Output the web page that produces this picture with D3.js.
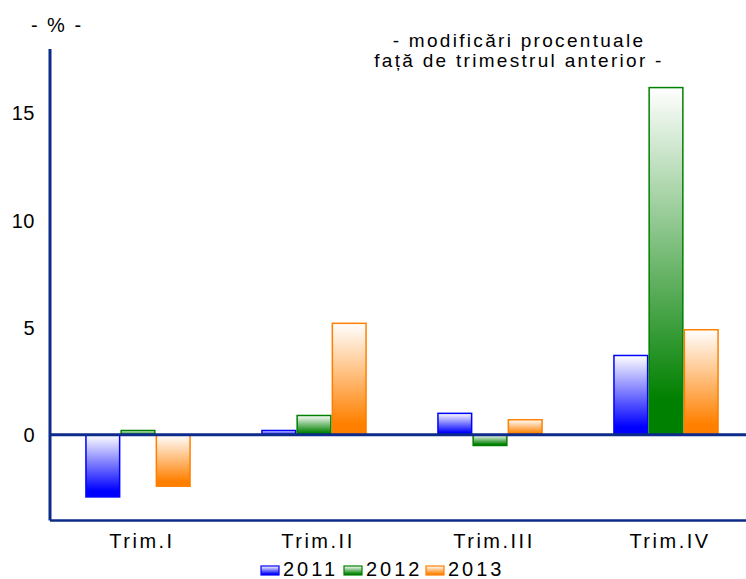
<!DOCTYPE html>
<html>
<head>
<meta charset="utf-8">
<script src="https://cdn.jsdelivr.net/npm/d3@7/dist/d3.min.js"></script>
<style>
  html, body { margin: 0; padding: 0; background: #fff; }
  svg { display: block; }
  text { font-family: "Liberation Sans", Arial, sans-serif; fill: #000; }
</style>
</head>
<body>
<svg id="chart" width="746" height="579"></svg>
<script>
const categories = ["Trim.I", "Trim.II", "Trim.III", "Trim.IV"];
const seriesNames = ["2011", "2012", "2013"];
const seriesColors = ["#0000ff", "#008000", "#ff8000"];
const values2011 = [-2.9, 0.2, 1.0, 3.7];
const values2012 = [0.2, 0.9, -0.5, 16.2];
const values2013 = [-2.4, 5.2, 0.7, 4.9];
const yTicks = [0, 5, 10, 15];
const titleLines = ["- modificări procentuale", "față de trimestrul anterior -"];
const unitLabel = "- % -";

const seriesValues = [values2011, values2012, values2013];
const data = [];
categories.forEach((c, i) => {
  seriesNames.forEach((s, j) => data.push({ cat: c, series: s, idx: j, value: seriesValues[j][i] }));
});

const svg = d3.select("#chart");
const axisColor = "#0d2b8a";

const x = d3.scaleBand().domain(categories).range([50, 754]).paddingInner(0.4).paddingOuter(0.2);
const xs = d3.scaleBand().domain(seriesNames).range([0, x.bandwidth()]);
const y = d3.scaleLinear().domain([-4, 18]).range([520.5, 49]);

// gradients
const defs = svg.append("defs");
seriesColors.forEach((col, j) => {
  const g = defs.append("linearGradient").attr("id", "grad" + j)
    .attr("x1", 0).attr("y1", 0).attr("x2", 0).attr("y2", 1);
  g.append("stop").attr("offset", "0%").attr("stop-color", "#ffffff");
  g.append("stop").attr("offset", "90%").attr("stop-color", col);
  g.append("stop").attr("offset", "100%").attr("stop-color", col);
});

// bars
svg.append("g").selectAll("rect").data(data).join("rect")
  .attr("x", d => x(d.cat) + xs(d.series) + 0.75)
  .attr("width", xs.bandwidth() - 1.5)
  .attr("y", d => y(Math.max(0, d.value)))
  .attr("height", d => Math.abs(y(d.value) - y(0)))
  .attr("fill", d => `url(#grad${d.idx})`)
  .attr("stroke", d => seriesColors[d.idx])
  .attr("stroke-width", 1.5);

// axes
svg.append("line").attr("x1", 50).attr("x2", 50).attr("y1", y(18)).attr("y2", y(-4))
  .attr("stroke", axisColor).attr("stroke-width", 3);
svg.append("line").attr("x1", 50).attr("x2", 746).attr("y1", y(0)).attr("y2", y(0))
  .attr("stroke", axisColor).attr("stroke-width", 3);
svg.append("line").attr("x1", 50).attr("x2", 746).attr("y1", y(-4)).attr("y2", y(-4))
  .attr("stroke", axisColor).attr("stroke-width", 2.5);

// y tick labels
svg.append("g").selectAll("text").data(yTicks).join("text")
  .attr("x", 35).attr("y", d => y(d)).attr("dy", "0.36em")
  .attr("text-anchor", "end").attr("font-size", 20).attr("letter-spacing", 0.5)
  .text(d => d);

// category labels
svg.append("g").selectAll("text").data(categories).join("text")
  .attr("x", d => x(d) + x.bandwidth() / 2 + 4).attr("y", 548)
  .attr("text-anchor", "middle").attr("font-size", 20).attr("letter-spacing", 2.5)
  .text(d => d);

// unit label
svg.append("text").attr("x", 57).attr("y", 32).attr("text-anchor", "middle")
  .attr("font-size", 20).attr("letter-spacing", 2).text(unitLabel);

// title
svg.append("g").selectAll("text").data(titleLines).join("text")
  .attr("x", 519).attr("y", (d, i) => 47 + i * 20).attr("text-anchor", "middle")
  .attr("font-size", 19).attr("letter-spacing", 2.3).text(d => d);

// legend
const legend = svg.append("g");
const legendX = [261, 344, 426];
seriesNames.forEach((s, j) => {
  legend.append("rect").attr("x", legendX[j]).attr("y", 566).attr("width", 18).attr("height", 9)
    .attr("fill", `url(#grad${j})`).attr("stroke", seriesColors[j]).attr("stroke-width", 1.2);
  legend.append("text").attr("x", legendX[j] + 22).attr("y", 576).attr("font-size", 20)
    .attr("letter-spacing", 3).text(s);
});
</script>
</body>
</html>
